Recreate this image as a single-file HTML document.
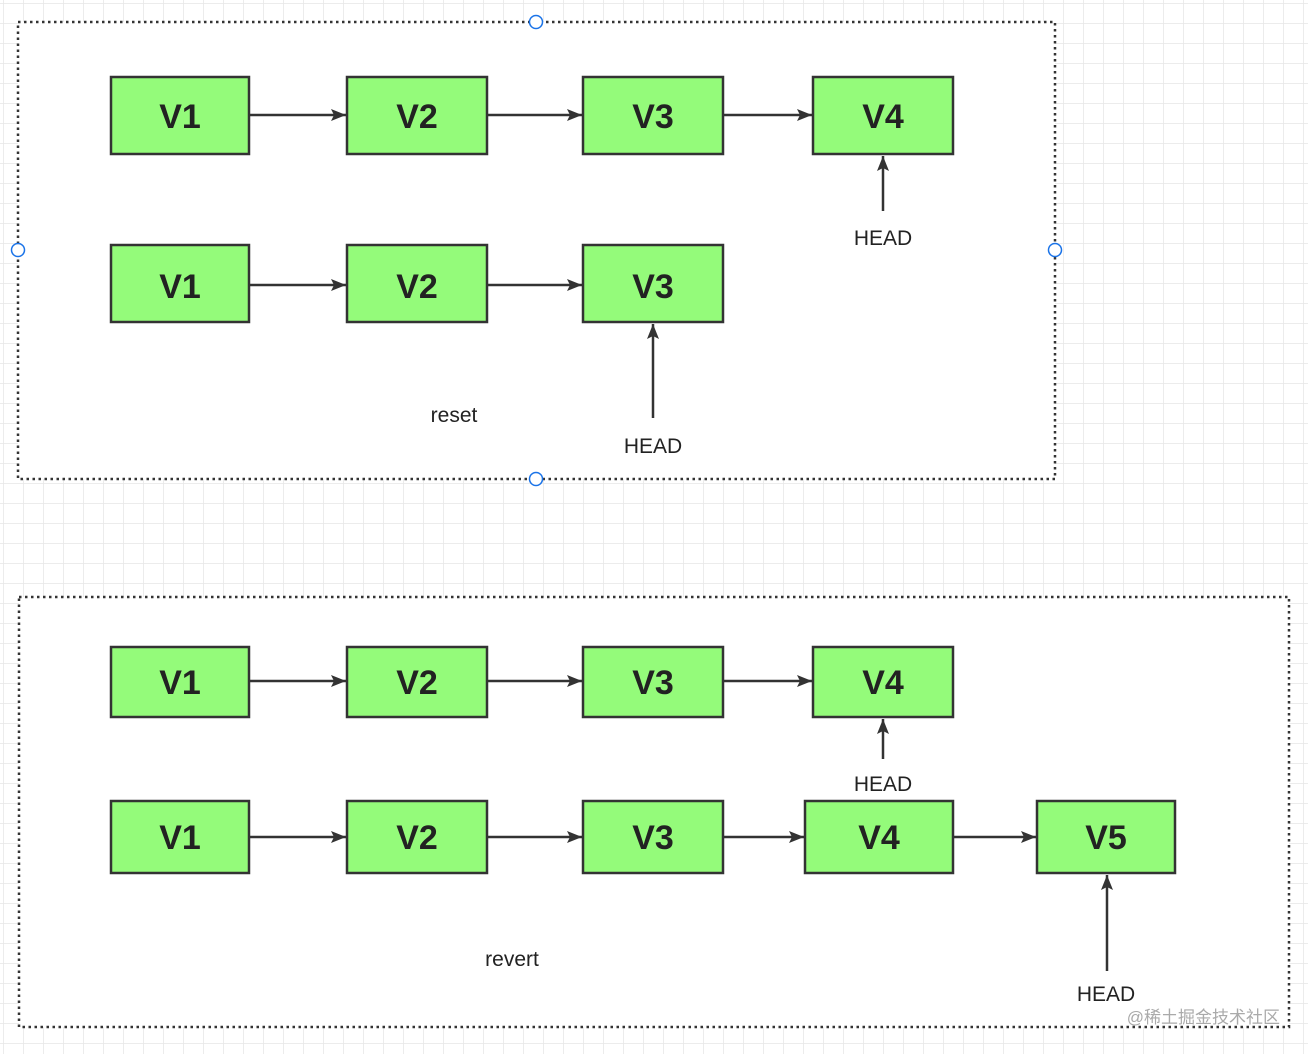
<!DOCTYPE html>
<html><head><style>
html,body{margin:0;padding:0;width:1308px;height:1054px;overflow:hidden;background:#fff}
svg text{font-family:"Liberation Sans",sans-serif}
</style></head><body>
<svg width="1308" height="1054" xmlns="http://www.w3.org/2000/svg">
<defs>
<pattern id="g" width="20" height="20" patternUnits="userSpaceOnUse" x="4" y="4">
<path d="M20 0V20M0 20H20" fill="none" stroke="#e6e6e6" stroke-width="1.5"/>
</pattern>
<marker id="a" markerWidth="16" markerHeight="12" refX="15" refY="6" orient="auto" markerUnits="userSpaceOnUse">
<path d="M0 0L15 6L0 12L3 6Z" fill="#333"/>
</marker>
</defs>
<rect width="1308" height="1054" fill="url(#g)"/>
<rect x="18" y="22" width="1037" height="457" fill="#fff" stroke="#333" stroke-width="2.5" stroke-dasharray="2.5 3.5"/>
<rect x="19" y="597" width="1270" height="430" fill="#fff" stroke="#333" stroke-width="2.5" stroke-dasharray="2.5 3.5"/>
<g fill="#fff" stroke="#1a73e8" stroke-width="1.5">
<circle cx="536" cy="22" r="6.5"/><circle cx="536" cy="479" r="6.5"/>
<circle cx="18" cy="250" r="6.5"/><circle cx="1055" cy="250" r="6.5"/>
</g>
<g fill="#94fb7a" stroke="#333" stroke-width="2.5">
<rect x="111" y="77" width="138" height="77"/><rect x="347" y="77" width="140" height="77"/><rect x="583" y="77" width="140" height="77"/><rect x="813" y="77" width="140" height="77"/>
<rect x="111" y="245" width="138" height="77"/><rect x="347" y="245" width="140" height="77"/><rect x="583" y="245" width="140" height="77"/>
<rect x="111" y="647" width="138" height="70"/><rect x="347" y="647" width="140" height="70"/><rect x="583" y="647" width="140" height="70"/><rect x="813" y="647" width="140" height="70"/>
<rect x="111" y="801" width="138" height="72"/><rect x="347" y="801" width="140" height="72"/><rect x="583" y="801" width="140" height="72"/><rect x="805" y="801" width="148" height="72"/><rect x="1037" y="801" width="138" height="72"/>
</g>
<g font-size="34" font-weight="bold" fill="#222" text-anchor="middle">
<text x="180" y="128">V1</text><text x="417" y="128">V2</text><text x="653" y="128">V3</text><text x="883" y="128">V4</text>
<text x="180" y="298">V1</text><text x="417" y="298">V2</text><text x="653" y="298">V3</text>
<text x="180" y="694">V1</text><text x="417" y="694">V2</text><text x="653" y="694">V3</text><text x="883" y="694">V4</text>
<text x="180" y="849">V1</text><text x="417" y="849">V2</text><text x="653" y="849">V3</text><text x="879" y="849">V4</text><text x="1106" y="849">V5</text>
</g>
<g stroke="#333" stroke-width="2.5" marker-end="url(#a)">
<line x1="250" y1="115" x2="346" y2="115"/><line x1="488" y1="115" x2="582" y2="115"/><line x1="724" y1="115" x2="812" y2="115"/>
<line x1="250" y1="285" x2="346" y2="285"/><line x1="488" y1="285" x2="582" y2="285"/>
<line x1="250" y1="681" x2="346" y2="681"/><line x1="488" y1="681" x2="582" y2="681"/><line x1="724" y1="681" x2="812" y2="681"/>
<line x1="250" y1="837" x2="346" y2="837"/><line x1="488" y1="837" x2="582" y2="837"/><line x1="724" y1="837" x2="804" y2="837"/><line x1="954" y1="837" x2="1036" y2="837"/>
<line x1="883" y1="211" x2="883" y2="156"/>
<line x1="653" y1="418" x2="653" y2="324"/>
<line x1="883" y1="759" x2="883" y2="719"/>
<line x1="1107" y1="971" x2="1107" y2="875"/>
</g>
<g font-size="21" fill="#222" text-anchor="middle">
<text x="883" y="245">HEAD</text>
<text x="653" y="453">HEAD</text>
<text x="454" y="422">reset</text>
<text x="883" y="791">HEAD</text>
<text x="512" y="966">revert</text>
<text x="1106" y="1001">HEAD</text>
</g>
<text x="1280" y="1023" font-size="17" fill="#aaa" text-anchor="end" font-family="'Liberation Sans','Noto Sans CJK SC',sans-serif">@稀土掘金技术社区</text>
</svg>
</body></html>
